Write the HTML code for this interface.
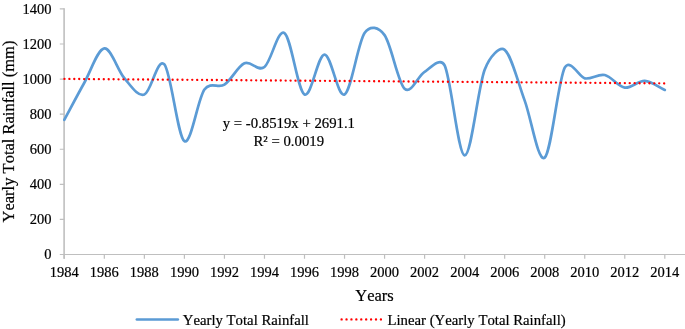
<!DOCTYPE html>
<html><head><meta charset="utf-8"><title>Yearly Total Rainfall</title>
<style>
html,body{margin:0;padding:0;background:#fff;}
body{width:685px;height:329px;overflow:hidden;font-family:"Liberation Serif",serif;}
svg{display:block;will-change:transform;}
text{font-family:"Liberation Serif",serif;fill:#000;font-kerning:none;stroke:#000;stroke-width:0.2px;}
.t{font-size:14.75px;}
.k{font-size:14.5px;}
.h{font-size:16.5px;}
</style></head><body>
<svg width="685" height="329" viewBox="0 0 685 329">
<rect width="685" height="329" fill="#fff"/>
<path d="M64.1 8.3 V258.80" fill="none" stroke="#bfbfbf" stroke-width="1.6"/>
<path d="M63.3 254.50 H685" fill="none" stroke="#bfbfbf" stroke-width="1.05"/>
<path d="M59.80 254.50 H64.30M59.80 219.41 H64.30M59.80 184.33 H64.30M59.80 149.24 H64.30M59.80 114.16 H64.30M59.80 79.07 H64.30M59.80 43.99 H64.30M59.80 8.90 H64.30M64.30 254.50 V258.80M104.33 254.50 V258.80M144.37 254.50 V258.80M184.40 254.50 V258.80M224.44 254.50 V258.80M264.47 254.50 V258.80M304.50 254.50 V258.80M344.54 254.50 V258.80M384.57 254.50 V258.80M424.61 254.50 V258.80M464.64 254.50 V258.80M504.67 254.50 V258.80M544.71 254.50 V258.80M584.74 254.50 V258.80M624.78 254.50 V258.80M664.81 254.50 V258.80" fill="none" stroke="#bfbfbf" stroke-width="1.2"/>
<text class="k" x="51.6" y="259.10" text-anchor="end">0</text>
<text class="k" x="51.6" y="224.01" text-anchor="end">200</text>
<text class="k" x="51.6" y="188.93" text-anchor="end">400</text>
<text class="k" x="51.6" y="153.84" text-anchor="end">600</text>
<text class="k" x="51.6" y="118.76" text-anchor="end">800</text>
<text class="k" x="51.6" y="83.67" text-anchor="end">1000</text>
<text class="k" x="51.6" y="48.59" text-anchor="end">1200</text>
<text class="k" x="51.6" y="13.50" text-anchor="end">1400</text>
<text class="k" x="64.30" y="277.3" text-anchor="middle">1984</text>
<text class="k" x="104.33" y="277.3" text-anchor="middle">1986</text>
<text class="k" x="144.37" y="277.3" text-anchor="middle">1988</text>
<text class="k" x="184.40" y="277.3" text-anchor="middle">1990</text>
<text class="k" x="224.44" y="277.3" text-anchor="middle">1992</text>
<text class="k" x="264.47" y="277.3" text-anchor="middle">1994</text>
<text class="k" x="304.50" y="277.3" text-anchor="middle">1996</text>
<text class="k" x="344.54" y="277.3" text-anchor="middle">1998</text>
<text class="k" x="384.57" y="277.3" text-anchor="middle">2000</text>
<text class="k" x="424.61" y="277.3" text-anchor="middle">2002</text>
<text class="k" x="464.64" y="277.3" text-anchor="middle">2004</text>
<text class="k" x="504.67" y="277.3" text-anchor="middle">2006</text>
<text class="k" x="544.71" y="277.3" text-anchor="middle">2008</text>
<text class="k" x="584.74" y="277.3" text-anchor="middle">2010</text>
<text class="k" x="624.78" y="277.3" text-anchor="middle">2012</text>
<text class="k" x="664.81" y="277.3" text-anchor="middle">2014</text>
<text class="h" x="374.55" y="300.7" text-anchor="middle">Years</text>
<text class="h" transform="translate(13.5 131.5) rotate(-90)" text-anchor="middle">Yearly Total Rainfall (mm)</text>
<path d="M64.30 119.85 C70.97 107.48 77.64 94.65 84.32 82.75 C90.99 70.85 97.66 49.21 104.33 48.45 C111.01 47.69 117.68 70.53 124.35 78.20 C131.02 85.87 137.70 96.78 144.37 94.48 C151.04 92.17 157.71 56.59 164.38 64.38 C171.06 72.16 177.73 137.00 184.40 141.20 C191.07 145.40 197.75 99.00 204.42 89.58 C210.37 81.17 218.48 88.58 224.44 84.68 C231.11 80.30 237.78 66.27 244.45 63.33 C251.13 60.38 257.80 72.05 264.47 67.00 C271.14 61.95 277.81 28.47 284.49 33.05 C291.16 37.63 297.83 90.89 304.50 94.48 C311.18 98.06 317.85 54.58 324.52 54.58 C331.19 54.58 337.87 98.06 344.54 94.48 C351.21 90.89 357.88 42.94 364.56 33.05 C370.18 24.71 378.70 26.98 384.57 35.15 C391.24 44.43 397.92 82.58 404.59 88.70 C411.26 94.83 417.93 75.78 424.61 71.90 C429.15 69.26 440.07 55.94 444.62 65.43 C451.30 79.34 457.97 154.65 464.64 155.38 C471.31 156.10 477.98 87.39 484.66 69.80 C489.67 56.59 499.66 45.99 504.67 49.85 C511.35 54.98 518.02 82.63 524.69 100.60 C531.36 118.57 538.04 163.13 544.71 157.65 C551.38 152.17 558.05 80.91 564.73 67.70 C569.84 57.58 579.63 77.44 584.74 78.38 C591.41 79.60 598.09 73.50 604.76 75.05 C611.43 76.60 618.10 86.69 624.78 87.65 C631.45 88.61 638.12 80.45 644.79 80.83 C651.47 81.20 658.14 86.89 664.81 89.93" fill="none" stroke="#5b9bd5" stroke-width="2.7" stroke-linecap="round" stroke-linejoin="round"/>
<path d="M64.45 78.91 L664.81 83.39" fill="none" stroke="#ff0000" stroke-width="2.35" stroke-linecap="round" stroke-dasharray="0.01 4.9056"/>
<text class="t" x="288.9" y="127.9" text-anchor="middle">y = -0.8519x + 2691.1</text>
<text class="t" x="288.8" y="145.7" text-anchor="middle">R² = 0.0019</text>
<path d="M136.9 319.5 H177.8" fill="none" stroke="#5b9bd5" stroke-width="2.7" stroke-linecap="round"/>
<text class="t" x="182.8" y="325.1">Yearly Total Rainfall</text>
<path d="M341.6 319.4 H381.5" fill="none" stroke="#ff0000" stroke-width="2.35" stroke-linecap="round" stroke-dasharray="0.01 4.9056"/>
<text class="t" x="387.5" y="325.1">Linear (Yearly Total Rainfall)</text>
</svg>
</body></html>
